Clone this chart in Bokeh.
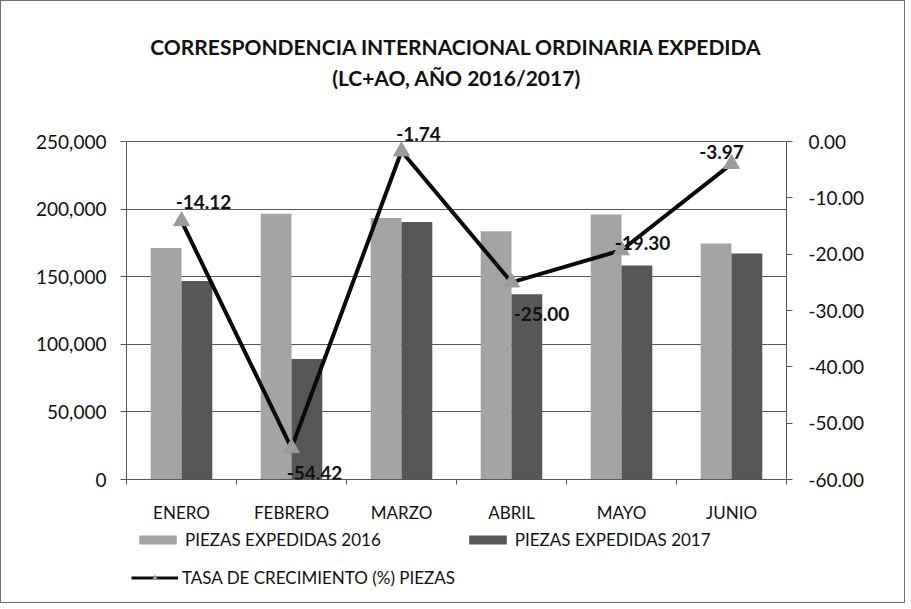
from bokeh.plotting import figure
from bokeh.layouts import column
from bokeh.models import (ColumnDataSource, Range1d, LinearAxis, FixedTicker, NumeralTickFormatter,
                          Legend, LegendItem, Label, LabelSet)
from bokeh.core.properties import value
from bokeh.embed import file_html
from bokeh.resources import INLINE

months = ["ENERO", "FEBRERO", "MARZO", "ABRIL", "MAYO", "JUNIO"]
piezas_2016 = [171300, 196500, 193400, 183600, 196000, 174500]
piezas_2017 = [146800, 89200, 190400, 137000, 158300, 167100]
tasa = [-14.12, -54.42, -1.74, -25.00, -19.30, -3.97]
tasa_labels = ["-14.12", "-54.42", "-1.74", "-25.00", "-19.30", "-3.97"]
left_ticks = [0, 50000, 100000, 150000, 200000, 250000]
right_ticks = [-60, -50, -40, -30, -20, -10, 0]
title_lines = ["CORRESPONDENCIA INTERNACIONAL ORDINARIA EXPEDIDA", "(LC+AO, AÑO 2016/2017)"]

# ---- layout / style constants (pixels) ----
FONT = "Lato"
W = 903
H_MAIN = 525
H_LEG = 76
FR_L, FR_R, FR_T, FR_B = 125, 785, 15, 478      # frame edges
AX_TOP = 140                                   # pixel of 250,000 / 0.00
lab_dx = [22, 23, 17, 30, 21, -10]
lab_dy = [19, -25, 17, -32, 7, 12]
C16, C17, CLINE, CTRI = "#a4a4a4", "#575757", "#0a0a0a", "#9b9b9b"

left_max, right_min, right_max = left_ticks[-1], right_ticks[0], right_ticks[-1]
ppu = (FR_B - AX_TOP) / left_max                 # pixels per unit (left)
frame_h = FR_B - FR_T
y_top = frame_h / ppu
r_top = right_min + (right_max - right_min) * frame_h / (FR_B - AX_TOP)

x_center = [i + 0.5 for i in range(len(months))]
bw = 0.28
src = ColumnDataSource(dict(
    xc=x_center,
    x16=[x - bw / 2 for x in x_center],
    x17=[x + bw / 2 for x in x_center],
    p16=piezas_2016, p17=piezas_2017, tasa=tasa, lab=tasa_labels,
    dx=lab_dx, dy=lab_dy,
))

p = figure(width=W, height=H_MAIN, output_backend="svg", toolbar_location=None,
           x_range=Range1d(0, len(months)), y_range=Range1d(0, y_top),
           min_border_left=FR_L, min_border_right=W - FR_R,
           min_border_top=FR_T, min_border_bottom=H_MAIN - FR_B)
p.title = None
p.background_fill_color = "#ffffff"
p.border_fill_color = "#ffffff"
p.outline_line_color = None
p.extra_y_ranges = {"rate": Range1d(right_min, r_top)}

v16 = p.vbar(x="x16", top="p16", width=bw, bottom=0, source=src, fill_color=C16, line_color=None)
v17 = p.vbar(x="x17", top="p17", width=bw, bottom=0, source=src, fill_color=C17, line_color=None)
ln = p.line(x="xc", y="tasa", source=src, y_range_name="rate", line_color=CLINE, line_width=4)
sc = p.scatter(x="xc", y="tasa", source=src, y_range_name="rate", marker="triangle",
               size=16, fill_color=CTRI, line_color=CTRI)

labels = LabelSet(x="xc", y="tasa", text="lab", source=src, y_range_name="rate",
                  x_offset="dx", y_offset="dy", text_align="center", text_baseline="middle",
                  text_font=value(FONT), text_font_style="bold", text_font_size="19px",
                  text_color="#111111")
p.add_layout(labels)

# x axis
xa = p.xaxis[0]
xa.ticker = FixedTicker(ticks=x_center, minor_ticks=list(range(len(months) + 1)))
xa.major_label_overrides = {x: m for x, m in zip(x_center, months)}
xa.major_tick_out = 0
xa.major_tick_in = 0
xa.minor_tick_out = 5
xa.minor_tick_in = 0
xa.minor_tick_line_color = "#555555"
xa.axis_line_color = "#555555"
xa.major_label_standoff = 17
xa.major_label_text_font = FONT
xa.major_label_text_font_size = "17px"
xa.major_label_text_color = "#111111"

# left axis
ya = p.yaxis[0]
ya.ticker = FixedTicker(ticks=left_ticks)
ya.bounds = (0, left_max)
ya.formatter = NumeralTickFormatter(format="0,0")
ya.minor_tick_line_color = None
ya.major_tick_out = 6
ya.major_tick_in = 0
ya.axis_line_color = "#555555"
ya.major_tick_line_color = "#555555"
ya.major_label_text_font = FONT
ya.major_label_text_font_size = "19px"
ya.major_label_text_color = "#111111"
ya.major_label_standoff = 14

# right axis
ra = LinearAxis(y_range_name="rate", ticker=FixedTicker(ticks=right_ticks),
                formatter=NumeralTickFormatter(format="0.00"), bounds=(right_min, right_max))
ra.minor_tick_line_color = None
ra.major_tick_out = 6
ra.major_tick_in = 0
ra.axis_line_color = "#555555"
ra.major_tick_line_color = "#555555"
ra.major_label_text_font = FONT
ra.major_label_text_font_size = "19px"
ra.major_label_text_color = "#111111"
ra.major_label_standoff = 16
p.add_layout(ra, "right")

p.xgrid.grid_line_color = None
p.ygrid.grid_line_color = "#555555"
p.ygrid.grid_line_width = 1
p.ygrid.ticker = FixedTicker(ticks=left_ticks)

# title (inside frame area above the axis top)
tx = (455 - FR_L) / ((FR_R - FR_L) / len(months))
for line, ypx in zip(title_lines, [45, 76]):
    p.add_layout(Label(x=tx, y=(FR_B - ypx) / ppu, text=line,
                       text_align="center", text_baseline="middle", text_font=FONT,
                       text_font_style="bold", text_font_size="21px", text_color="#111111"))

# ---- legend figure (frame aligned with the chart frame) ----
q = figure(width=W, height=H_LEG, output_backend="svg", toolbar_location=None,
           x_range=Range1d(0, 1), y_range=Range1d(0, 1),
           min_border_left=FR_L, min_border_right=W - FR_R, min_border_top=0, min_border_bottom=0)
q.title = None
q.axis.visible = False
q.grid.visible = False
q.outline_line_color = None
q.background_fill_color = "#ffffff"
q.border_fill_color = "#ffffff"
# proxy renderers (off-range) that only supply legend swatches
d16 = q.vbar(x=[-5], top=[-5], width=0.1, bottom=-6, fill_color=C16, line_color=None)
d17 = q.vbar(x=[-5], top=[-5], width=0.1, bottom=-6, fill_color=C17, line_color=None)
dl = q.line(x=[-5, -4], y=[-5, -5], line_color=CLINE, line_width=3)
ds = q.scatter(x=[-5], y=[-5], marker="triangle", size=11, fill_color=CTRI, line_color=CTRI)

def mk_legend(items, loc, spacing):
    lg = Legend(items=items, orientation="horizontal", location=loc)
    lg.border_line_color = None
    lg.background_fill_alpha = 0
    lg.margin = 0
    lg.padding = 0
    lg.spacing = spacing
    lg.glyph_width = 47
    lg.glyph_height = 11
    lg.label_height = 20
    lg.label_standoff = 4
    lg.label_text_font = FONT
    lg.label_text_font_size = "17px"
    lg.label_text_color = "#111111"
    return lg

leg1 = mk_legend([LegendItem(label="PIEZAS EXPEDIDAS 2016", renderers=[d16]),
                  LegendItem(label="PIEZAS EXPEDIDAS 2017", renderers=[d17])], (133 - FR_L, 52), 83)
leg2 = mk_legend([LegendItem(label="TASA DE CRECIMIENTO (%) PIEZAS", renderers=[dl, ds])], (130 - FR_L, 14), 0)
q.add_layout(leg1)
q.add_layout(leg2)

layout = column(p, q, spacing=0, styles={"border": "1px solid #6e6e6e"})
open("out.html", "w").write(file_html(layout, INLINE))
